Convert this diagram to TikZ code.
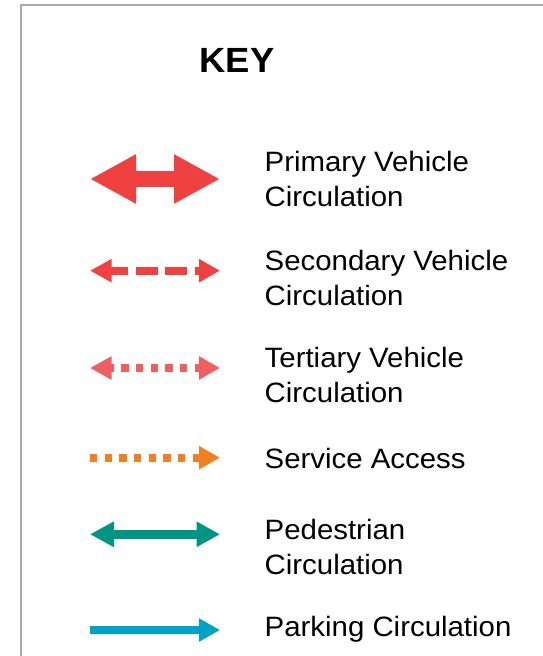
\documentclass[tikz,border=0pt]{standalone}
\usepackage{fontspec}
\setmainfont{Liberation Sans}
\newfontfamily\lblfont[FakeStretch=1.05]{Liberation Sans}
\newfontfamily\keyfont[FakeStretch=1.04]{Liberation Sans}
\usetikzlibrary{arrows.meta}
\definecolor{framegray}{RGB}{170,170,170}
\definecolor{primred}{RGB}{239,65,64}
\definecolor{tertred}{RGB}{240,94,96}
\definecolor{servorange}{RGB}{240,128,34}
\definecolor{pedteal}{RGB}{0,148,133}
\definecolor{parkblue}{RGB}{0,163,198}
\begin{document}
\begin{tikzpicture}[x=1pt,y=-1pt,
  lbl/.style={anchor=west,inner sep=0pt,align=left,font=\lblfont\fontsize{28}{35}\selectfont},
  lblone/.style={anchor=base west,inner sep=0pt,font=\lblfont\fontsize{28}{35}\selectfont},
  keytitle/.style={anchor=base west,inner sep=0pt,font=\keyfont\bfseries\fontsize{35}{42}\selectfont},
  primary/.style={primred,line width=16pt,{Triangle[length=46pt,width=46pt]}-{Triangle[length=46pt,width=46pt]}},
  secondary/.style={primred,line width=8pt,dash pattern=on 22pt off 7.5pt,dash phase=4pt,{Triangle[length=21.7pt,width=22pt]}-{Triangle[length=21pt,width=22pt]}},
  tertiary/.style={tertred,line width=8pt,dash pattern=on 7.33pt off 7.33pt,dash phase=3.7pt,{Triangle[length=21.7pt,width=22pt]}-{Triangle[length=21pt,width=22pt]}},
  service/.style={servorange,line width=8pt,dash pattern=on 7.33pt off 7.33pt,-{Triangle[length=21pt,width=22pt]}},
  pedestrian/.style={pedteal,line width=8.7pt,{Triangle[length=24pt,width=24pt]}-{Triangle[length=23.5pt,width=24pt]}},
  parking/.style={parkblue,line width=8pt,-{Triangle[length=21pt,width=22pt]}}
]
\useasboundingbox (0,0) rectangle (543,656);
\fill[white] (0,0) rectangle (543,656);
\draw[framegray,line width=2pt] (20.7,662) -- (20.7,4.5) -- (550,4.5);

\node[keytitle] (key) at (199.5,72.3) {KEY};

% arrow end points
\coordinate (p1) at (90,179);   \coordinate (p2) at (220,179);
\coordinate (s1) at (90,270.7); \coordinate (s2) at (220,270.7);
\coordinate (t1) at (90,368);   \coordinate (t2) at (220,368);
\coordinate (v1) at (90,457.7); \coordinate (v2) at (220,457.7);
\coordinate (d1) at (90,534.3); \coordinate (d2) at (220,534.3);
\coordinate (k1) at (90,630);   \coordinate (k2) at (220,630);

\draw[primary] (p1) -- (p2);
\draw[secondary] (s1) -- (s2);
\draw[tertiary] (t1) -- (t2);
\draw[service] (v1) -- (v2);
\draw[pedestrian] (d1) -- (d2);
\draw[parking] (k1) -- (k2);

\node[lbl] (lp) at (264.5,179.3) {Primary Vehicle\\Circulation};
\node[lbl] (ls) at (264.5,278) {Secondary Vehicle\\Circulation};
\node[lbl] (lt) at (264.5,375.3) {Tertiary Vehicle\\Circulation};
\node[lblone] (lv) at (264.5,468) {Service Access};
\node[lbl] (ld) at (264.5,547) {Pedestrian\\Circulation};
\node[lblone] (lk) at (264.5,636.4) {Parking Circulation};
\end{tikzpicture}
\end{document}
